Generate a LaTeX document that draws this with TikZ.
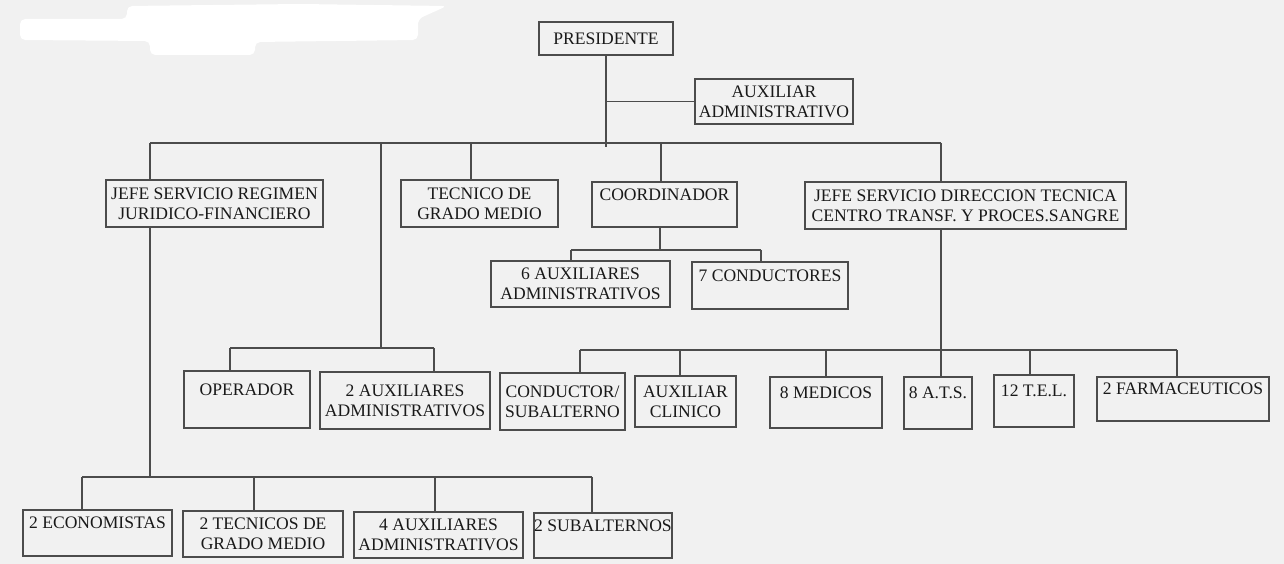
\documentclass[tikz,border=0pt]{standalone}
\usepackage{fontspec}
\setmainfont{Liberation Serif}

\definecolor{paper}{gray}{0.945}
\definecolor{ink}{gray}{0.1}
\definecolor{rule}{gray}{0.3}

\tikzset{
    box/.style 2 args={draw=rule, line width=0.8pt, inner sep=0pt, align=center,
        minimum width=#1*0.2mm, minimum height=#2*0.2mm, text=ink,
        font=\fontsize{10}{11.5}\selectfont},
    wire/.style={draw=rule, line width=0.8pt}
}

\begin{document}
\begin{tikzpicture}[x=0.2mm, y=-0.2mm]
    % Sheet
    \fill[paper] (0,0) rectangle (1284,564);
    \useasboundingbox (0,0) rectangle (1284,564);

    % Erased heading
    \fill[white, rounded corners=3pt] (20,19) -- (127,19) -- (127,6) -- (300,4) -- (447,6)
        -- (418,19) -- (418,40) -- (255,42) -- (255,55) -- (150,55) -- (150,41) -- (20,40) -- cycle;

    % Top
    \node[box={134}{33}] (pres) at (606,38.5) {PRESIDENTE};
    \node[box={158}{45}] (aux) at (774,101.5) {AUXILIAR\\ADMINISTRATIVO};

    % Second row
    \node[box={217}{47}] (jefe1) at (214.5,203.5) {JEFE SERVICIO REGIMEN\\JURIDICO-FINANCIERO};
    \node[box={157}{47}] (tec) at (479.5,203.5) {TECNICO DE\\GRADO MEDIO};
    \node[box={145}{45}] (coord) at (664.5,204.5) {COORDINADOR\\\mbox{}};
    \node[box={321}{47}] (jefe2) at (965.5,205.5) {JEFE SERVICIO DIRECCION TECNICA\\CENTRO TRANSF. Y PROCES.SANGRE};

    % Under the coordinator
    \node[box={179}{46}] (aux6) at (580.5,284) {6 AUXILIARES\\ADMINISTRATIVOS};
    \node[box={156}{47}] (cond7) at (770,285.5) {7 CONDUCTORES\\\mbox{}};

    % Third row
    \node[box={126}{57}] (oper) at (247,399.5) {OPERADOR\\\mbox{}};
    \node[box={170}{57}] (aux2) at (405,400.5) {2 AUXILIARES\\ADMINISTRATIVOS};
    \node[box={125}{57}] (condsub) at (562.5,401.5) {CONDUCTOR/\\SUBALTERNO};
    \node[box={101}{51}] (auxcli) at (685.5,401.5) {AUXILIAR\\CLINICO};
    \node[box={112}{51}] (med) at (826,402.5) {8 MEDICOS\\\mbox{}};
    \node[box={68}{52}] (ats) at (938,403) {8 A.T.S.\\\mbox{}};
    \node[box={80}{52}] (tel) at (1034,401) {12 T.E.L.\\\mbox{}};
    \node[box={172}{44}] (farm) at (1183,399) {2 FARMACEUTICOS\\\mbox{}};

    % Bottom row
    \node[box={149}{46}] (eco) at (97.5,533) {2 ECONOMISTAS\\\mbox{}};
    \node[box={160}{46}] (tec2) at (263,534) {2 TECNICOS DE\\GRADO MEDIO};
    \node[box={169}{46}] (aux4) at (438.5,535) {4 AUXILIARES\\ADMINISTRATIVOS};
    \node[box={138}{45}] (sub2) at (603,535.5) {2 SUBALTERNOS\\\mbox{}};

    % Main bus
    \coordinate (j1) at (150,143);
    \coordinate (j2) at (381,143);
    \coordinate (j3) at (471,143);
    \coordinate (j4) at (661,143);
    \coordinate (j5) at (941,143);
    \draw[wire] (pres.south) -- (pres.south |- j4) -- ++(0,4);
    \draw[wire] (pres.south |- aux.west) -- (aux.west);
    \draw[wire] (j1) -- (j5);
    \draw[wire] (j1) -- (j1 |- jefe1.north);
    \draw[wire] (j3) -- (j3 |- tec.north);
    \draw[wire] (j4) -- (j4 |- coord.north);
    \draw[wire] (j5) -- (j5 |- jefe2.north);

    % Operador branch
    \coordinate (r0) at (381,348);
    \coordinate (r1) at (230,348);
    \coordinate (r2) at (434,348);
    \draw[wire] (j2) -- (r0);
    \draw[wire] (r1) -- (r2);
    \draw[wire] (r1) -- (r1 |- oper.north);
    \draw[wire] (r2) -- (r2 |- aux2.north);

    % Coordinador branch
    \coordinate (c0) at (660,250);
    \coordinate (c1) at (571,250);
    \coordinate (c2) at (761,250);
    \draw[wire] (c0 |- coord.south) -- (c0);
    \draw[wire] (c1) -- (c2);
    \draw[wire] (c1) -- (c1 |- aux6.north);
    \draw[wire] (c2) -- (c2 |- cond7.north);

    % Direccion tecnica branch
    \coordinate (s1) at (580,350);
    \coordinate (s2) at (680,350);
    \coordinate (s3) at (826,350);
    \coordinate (s5) at (1030,350);
    \coordinate (s6) at (1177,350);
    \draw[wire] (j5 |- jefe2.south) -- (j5 |- ats.north);
    \draw[wire] (s1) -- (s6);
    \draw[wire] (s1) -- (s1 |- condsub.north);
    \draw[wire] (s2) -- (s2 |- auxcli.north);
    \draw[wire] (s3) -- (s3 |- med.north);
    \draw[wire] (s5) -- (s5 |- tel.north);
    \draw[wire] (s6) -- (s6 |- farm.north);

    % Regimen juridico branch
    \coordinate (e1) at (82,477);
    \coordinate (e2) at (254,477);
    \coordinate (e3) at (435,477);
    \coordinate (e4) at (592,477);
    \draw[wire] (j1 |- jefe1.south) -- (j1 |- e1);
    \draw[wire] (e1) -- (e4);
    \draw[wire] (e1) -- (e1 |- eco.north);
    \draw[wire] (e2) -- (e2 |- tec2.north);
    \draw[wire] (e3) -- (e3 |- aux4.north);
    \draw[wire] (e4) -- (e4 |- sub2.north);
\end{tikzpicture}
\end{document}
